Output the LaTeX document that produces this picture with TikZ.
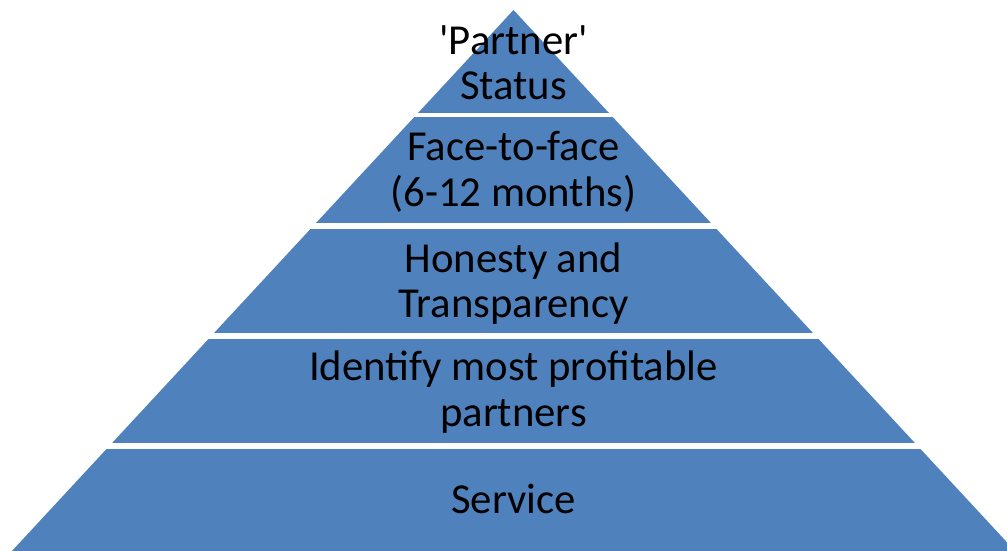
\documentclass[tikz,border=0pt]{standalone}
\usepackage{fontspec}
\setmainfont{Carlito}
\definecolor{layerblue}{HTML}{4F81BD}
\begin{document}
\begin{tikzpicture}[x=1pt,y=1pt,
  lbl/.style={align=center,text=black,font=\fontsize{42.7}{45.5}\selectfont,inner sep=0pt}]
\useasboundingbox (0,0) rectangle (1007,550);
\begin{scope}
  \clip (513.5,540) -- (3.6,-10) -- (1023.4,-10) -- cycle;
  \fill[layerblue] (0,540) rectangle (1007,437.3);
  \fill[layerblue] (0,433) rectangle (1007,327.3);
  \fill[layerblue] (0,321) rectangle (1007,217);
  \fill[layerblue] (0,211) rectangle (1007,107);
  \fill[layerblue] (0,101) rectangle (1007,-10);
\end{scope}
\node[lbl] (l1) at (513.5,487.5) {\textquotesingle Partner\textquotesingle\\Status};
\node[lbl] (l2) at (513.5,378) {Face-to-face\\(6-12 months)};
\node[lbl] (l3) at (513.5,266.5) {Honesty and\\Transparency};
\node[lbl] (l4) at (513.5,158) {Identify most profitable\\partners};
\node[lbl] (l5) at (513.5,51) {Service};
\end{tikzpicture}
\end{document}
